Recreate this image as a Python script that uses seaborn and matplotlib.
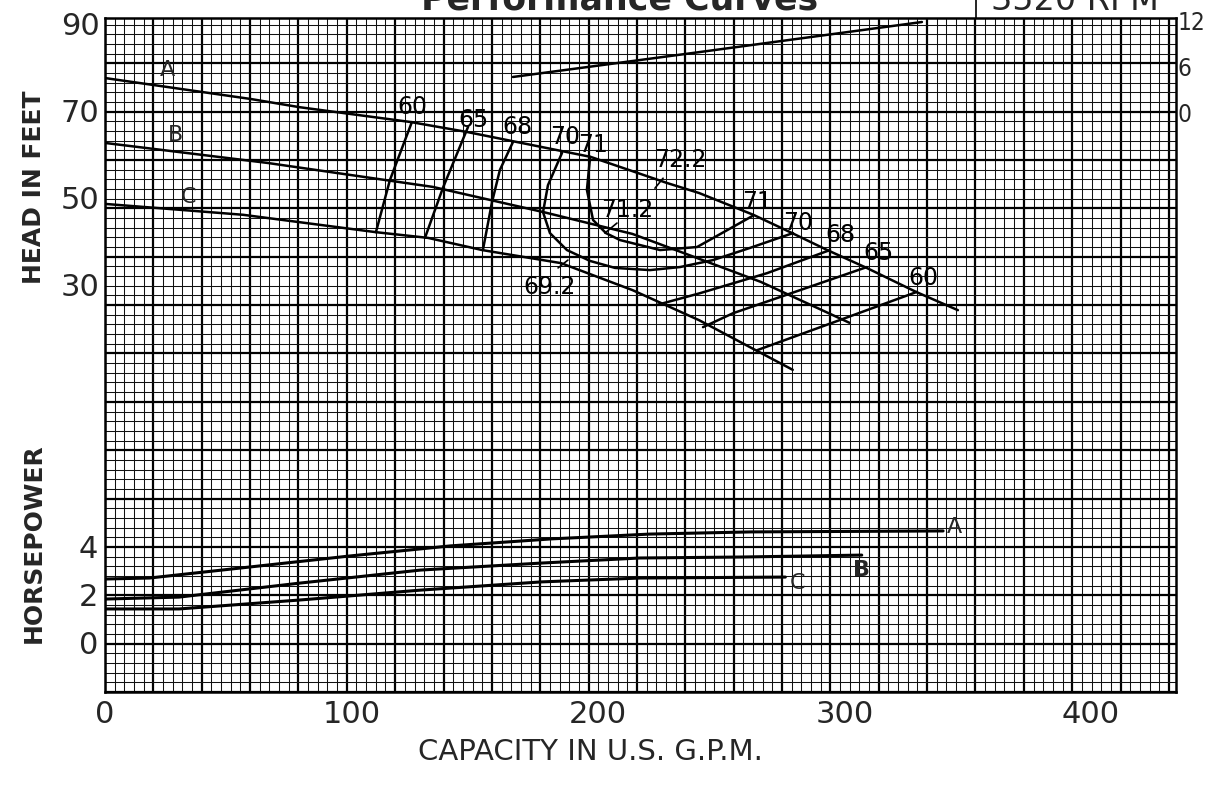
import numpy as np
import matplotlib
matplotlib.use("Agg")
import matplotlib.pyplot as plt
from matplotlib import font_manager
from matplotlib.lines import Line2D
import seaborn as sns

# head-capacity curves, head in ft vs capacity in US gpm
q_a = [0, 59, 79, 124, 147, 197, 228, 241, 263, 278, 293, 309, 329, 346]
head_a = [77.5, 72.7, 70.8, 67.4, 65.1, 59.4, 53.4, 51.1, 46.1, 42.1, 38.0, 33.9, 28.4, 24.2]
q_b = [0, 66, 133, 178, 214, 241, 266, 302]
head_b = [62.6, 58.0, 52.5, 46.7, 41.7, 36.0, 30.7, 21.3]
q_c = [0, 56, 110, 131, 153, 185, 214, 241, 279]
head_c = [48.6, 46.1, 42.1, 40.8, 38.0, 35.0, 28.8, 21.9, 10.5]

# efficiency contours (left and right branches)
eff60_q = [124.5, 115.6, 109.9]
eff60_h = [67.4, 54.1, 42.1]
eff65_q = [147.3, 137.1, 129.8]
eff65_h = [66.3, 52.3, 40.8]
eff68_q = [165.5, 160.2, 157.0, 153.3]
eff68_h = [62.8, 56.4, 49.0, 38.0]
eff70_q = [185.4, 179.7, 177.7, 180.5, 187.4, 196.8, 206.9, 221.1, 233.3, 246.7, 261.7, 279.1]
eff70_h = [60.3, 52.9, 46.7, 41.9, 38.0, 35.5, 33.9, 33.4, 34.1, 35.7, 38.5, 41.9]
eff71_q = [196.8, 195.5, 198.0, 203.2, 208.9, 225.2, 240.2, 262.9]
eff71_h = [59.4, 51.8, 44.9, 41.9, 40.3, 38.0, 38.7, 45.9]
eff68r_q = [223.9, 241.4, 268.6, 294.1]
eff68r_h = [25.4, 28.1, 32.7, 38.0]
eff65r_q = [242.6, 254.8, 282.0, 309.1]
eff65r_h = [20.3, 23.5, 28.8, 34.1]
eff60r_q = [264.5, 297.0, 329.4]
eff60r_h = [15.0, 21.7, 28.4]

# horsepower curves
hp_a_q = [0, 18, 59, 99, 140, 181, 221, 262, 340]
hp_a = [2.65, 2.69, 3.15, 3.60, 4.02, 4.31, 4.51, 4.60, 4.64]
hp_b_q = [0, 30, 79, 128, 177, 217, 258, 307]
hp_b = [1.82, 1.90, 2.48, 3.02, 3.31, 3.52, 3.56, 3.64]
hp_c_q = [0, 30, 79, 128, 177, 217, 276]
hp_c = [1.41, 1.41, 1.78, 2.19, 2.53, 2.69, 2.73]

# NPSH line (right scale)
npsh_q = [165.5, 241.4, 331.4]
npsh_ft = [4.65, 7.87, 11.74]

head_ticks = [90, 70, 50, 30]
hp_ticks = [4, 2, 0]
npsh_ticks = [12, 6, 0]
q_ticks = [0, 100, 200, 300, 400]

sns.set_style("white")
plt.rcParams['font.family'] = ['DejaVu Sans']

# narrow face for the cramped right-hand scale, if there is one
names = {f.name for f in font_manager.fontManager.ttflist}
if 'Liberation Sans Narrow' in names:
    right_font = dict(family='Liberation Sans Narrow', fontsize=21)
else:
    right_font = dict(family='DejaVu Sans', fontstretch='condensed', fontsize=17.5)

W, H = 1205, 788
fig = plt.figure(figsize=(W / 100, H / 100), dpi=100)
left_px, right_px, top_px, bot_px = 105, 1176, 18, 692
rect = [left_px / W, 1 - bot_px / H, (right_px - left_px) / W, (bot_px - top_px) / H]

# graph paper background
paper = fig.add_axes(rect, zorder=0)
major = 48.36
nx = (right_px - left_px) / major
ny = (bot_px - top_px) / major
paper.set_xlim(0, nx)
paper.set_ylim(0, ny)
paper.set_xticks(np.arange(0, nx, 1))
paper.set_yticks(np.arange(0, ny, 1))
paper.set_xticks(np.arange(0, nx, 0.2), minor=True)
paper.set_yticks(np.arange(0, ny, 0.2), minor=True)
paper.grid(which='major', color='black', lw=1.6)
paper.grid(which='minor', color='#111111', lw=0.75)
paper.tick_params(which='both', length=0, labelleft=False, labelbottom=False)
for s in paper.spines.values():
    s.set_linewidth(1.8)
    s.set_color('black')

qmax = (right_px - left_px) / 2.465
h_lim = (60 + (154.25 - bot_px) / 4.355, 60 + (154.25 - top_px) / 4.355)
hp_lim = (-(bot_px - 643) / 24.15, (643 - top_px) / 24.15)
np_lim = (-(bot_px - 113) / 7.75, (113 - top_px) / 7.75)


def overlay():
    a = fig.add_axes(rect, zorder=2)
    a.set_facecolor('none')
    for s in a.spines.values():
        s.set_visible(False)
    a.tick_params(length=0)
    return a


ax = overlay()
ax_hp = overlay()
ax_np = overlay()

lw = 1.8
for q, h in [(q_a, head_a), (q_b, head_b), (q_c, head_c),
             (eff60_q, eff60_h), (eff65_q, eff65_h), (eff68_q, eff68_h),
             (eff70_q, eff70_h), (eff71_q, eff71_h),
             (eff68r_q, eff68r_h), (eff65r_q, eff65r_h), (eff60r_q, eff60r_h)]:
    sns.lineplot(x=q, y=h, ax=ax, sort=False, estimator=None, color='black', linewidth=lw)

for q, p in [(hp_a_q, hp_a), (hp_b_q, hp_b), (hp_c_q, hp_c)]:
    sns.lineplot(x=q, y=p, ax=ax_hp, sort=False, estimator=None, color='black', linewidth=2.2)

sns.lineplot(x=npsh_q, y=npsh_ft, ax=ax_np, sort=False, estimator=None, color='black', linewidth=lw)

for a, lim in [(ax, h_lim), (ax_hp, hp_lim), (ax_np, np_lim)]:
    a.set_xlim(0, qmax)
    a.set_ylim(*lim)
    a.set_xlabel('')
    a.set_ylabel('')

ax.set_xticks(q_ticks)
ax.set_xticklabels([str(t) for t in q_ticks], fontsize=22)
ax.tick_params(axis='x', pad=6)
ax.set_yticks(head_ticks)
ax.set_yticklabels([str(t) for t in head_ticks], fontsize=22)
ax.tick_params(axis='y', pad=4)

ax_hp.set_xticks([])
ax_hp.set_yticks(hp_ticks)
ax_hp.set_yticklabels([str(t) for t in hp_ticks], fontsize=22)
ax_hp.tick_params(axis='y', pad=5)

ax_np.set_xticks([])
ax_np.yaxis.tick_right()
ax_np.set_yticks(npsh_ticks)
ax_np.set_yticklabels([str(t) for t in npsh_ticks], **right_font)
ax_np.tick_params(axis='y', pad=1)

# efficiency labels
txt = dict(fontsize=17, ha='center', va='center', color='black')
for s, q, h in [('60', 124.5, 70.8), ('65', 149.3, 67.9), ('68', 167.5, 66.3),
                ('70', 186.6, 64.0), ('71', 198.0, 62.1), ('72.2', 233.3, 58.7),
                ('71.2', 211.8, 47.2), ('69.2', 180.5, 29.5),
                ('71', 264.5, 49.0), ('70', 281.1, 44.2), ('68', 298.2, 41.5),
                ('65', 313.6, 37.4), ('60', 331.8, 31.6)]:
    ax.text(q, h, s, **txt)
for q0, q1, h0, h1 in [(223.1, 226.4, 52.2, 54.5), (202.8, 207.7, 41.9, 44.2),
                       (183.8, 187.8, 33.9, 35.7)]:
    ax.plot([q0, q1], [h0, h1], color='black', lw=1.2)

for s, q, h in [('A', 25.2, 79.3), ('B', 28.4, 64.4), ('C', 33.7, 50.2)]:
    ax.text(q, h, s, fontsize=16, ha='center', va='center')
ax_hp.text(344.5, 4.8, 'A', fontsize=16, ha='center', va='center')
ax_hp.text(307.0, 3.02, 'B', fontsize=16, ha='center', va='center', fontweight='bold')
ax_hp.text(281.0, 2.48, 'C', fontsize=16, ha='center', va='center')

# titles and axis names (title and speed box run off the top, as in the scan)
fig.text(620 / W, 1 - 10 / H, 'Performance Curves', ha='center', va='baseline',
         fontsize=25, fontweight='bold')
fig.text(1075 / W, 1 - 10 / H, '3520 RPM', ha='center', va='baseline', fontsize=24)
fig.add_artist(Line2D([976 / W, 976 / W], [1, 1 - top_px / H], color='black', lw=1.2))
fig.text(34 / W, 1 - 187 / H, 'HEAD IN FEET', rotation=90, ha='center', va='center',
         fontsize=18, fontweight='bold')
fig.text(34 / W, 1 - 543 / H, 'HORSEPOWER', rotation=90, ha='center', va='center',
         fontsize=18, fontweight='bold')
fig.text(590 / W, 1 - 752 / H, 'CAPACITY IN U.S. G.P.M.', ha='center', va='center',
         fontsize=21)

fig.savefig('out.png', dpi=100)
